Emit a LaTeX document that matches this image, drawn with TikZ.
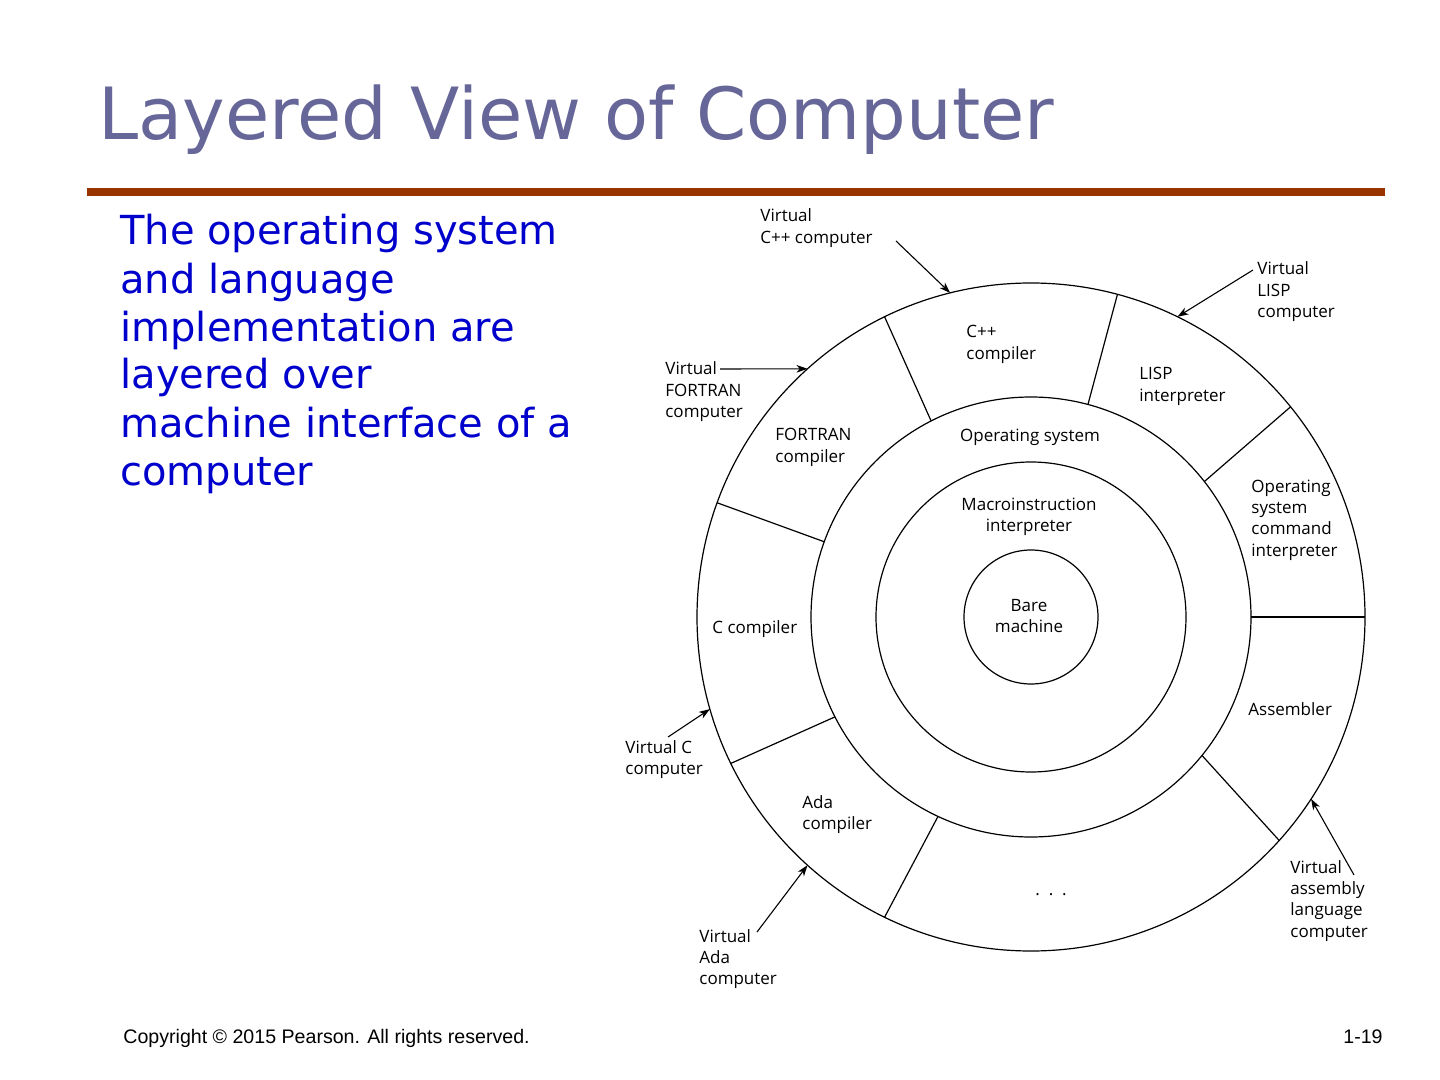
\documentclass[tikz,border=0pt]{standalone}
\usepackage{fontspec}
\newfontfamily\dvs{DejaVu Sans}
\newfontfamily\lblf{Open Sans}
\newfontfamily\footf{Liberation Sans}
\usetikzlibrary{arrows.meta,calc}
\definecolor{titlecol}{HTML}{666699}
\definecolor{barcol}{HTML}{993300}
\definecolor{bodycol}{HTML}{0000CC}
\begin{document}
\begin{tikzpicture}[x=0.5pt,y=-0.5pt,
 ring/.style={circle,draw,line width=0.6pt,inner sep=0,outer sep=0},
 lbl/.style={anchor=base west,align=left,inner sep=0,font=\lblf\fontsize{8.5}{10.7}\selectfont},
 lblc/.style={lbl,anchor=base,align=center},
 divider/.style={line width=0.6pt},
 ptr/.style={-{Stealth[length=5.5pt,width=3.8pt,inset=1.6pt]},line width=0.55pt}]
\useasboundingbox (0,0) rectangle (1440,1080);
\fill[white] (0,0) rectangle (1440,1080);
% title and bar
\node[anchor=base west,inner sep=0,font=\dvs\fontsize{36}{43}\selectfont,text=titlecol] (title) at (98,140) {Layered View of Computer};
\fill[barcol] (87,188) rectangle (1385,196);
% body text (anchor = baseline of last line)
\node[anchor=base west,align=left,inner sep=0,font=\dvs\fontsize{20}{24}\selectfont,text=bodycol] (body) at (120,485)
 {The operating system\\and language\\implementation are\\layered over\\machine interface of a\\computer};
% footer
\node[anchor=base west,inner sep=0,font=\footf\fontsize{9.8}{12}\selectfont] (copy) at (123,1043) {Copyright \textcopyright{} 2015 Pearson. All rights reserved.};
\node[anchor=base east,inner sep=0,font=\footf\fontsize{9.8}{12}\selectfont] (pg) at (1383,1043) {1-19};
% rings
\coordinate (c) at (1031,617);
\node[ring,minimum size=334pt] (outer) at (c) {};
\node[ring,minimum size=220pt] (os) at (c) {};
\node[ring,minimum size=155pt] (macro) at (c) {};
\node[ring,minimum size=67pt] (bare) at (c) {};
% dividers
\draw[divider] (os.117.1) -- (outer.116.3);
\draw[divider] (os.75.1) -- (outer.75.3);
\draw[divider] (os.38.4) -- (outer.39.3);
\draw[divider] (os.0) -- (outer.0);
\draw[divider] (os.-39.3) -- (outer.-42.2);
\draw[divider] (os.245.1) -- (outer.244.9);
\draw[divider] (os.207.3) -- (outer.206.7);
\draw[divider] (os.160) -- (outer.160);
% inner labels (anchor = baseline of last line)
\node[lbl] (cpp) at (966,359.4) {C++\\compiler};
\node[lbl] (lisp) at (1139,401.4) {LISP\\interpreter};
\node[lbl] (fortran) at (775,462.4) {FORTRAN\\compiler};
\node[lblc] (oslbl) at (1030,442) {Operating system};
\node[lblc] (macrolbl) at (1029,531.4) {Macroinstruction\\interpreter};
\node[lblc] (barelbl) at (1029,632.4) {Bare\\machine};
\node[lbl] (oscmd) at (1251,556.2) {Operating\\system\\command\\interpreter};
\node[lbl] (clbl) at (712,633) {C compiler};
\node[lbl] (asm) at (1248,715) {Assembler};
\node[lbl] (ada) at (802,829.4) {Ada\\compiler};
\node[lbl] (dots) at (1035,895) {.\ \ .\ \ .};
% outer labels
\node[lbl] (vcpp) at (760,243.4) {Virtual\\C++ computer};
\node[lbl] (vlisp) at (1257,317.8) {Virtual\\LISP\\computer};
\node[lbl] (vfortran) at (665,417.8) {Virtual\\FORTRAN\\computer};
\node[lbl] (vc) at (625,774.4) {Virtual C\\computer};
\node[lbl] (vada) at (699,984.8) {Virtual\\Ada\\computer};
\node[lbl] (vasm) at (1290,937.2) {Virtual\\assembly\\language\\computer};
% arrows
\coordinate (aCpp) at (896,241);
\coordinate (aLisp) at (1253,270);
\coordinate (aFor) at (720,369);
\coordinate (aC) at (668,737);
\coordinate (aAda) at (757,932);
\coordinate (aAsm) at (1354,875);
\draw[ptr] (aCpp) -- (outer.104.1);
\draw[ptr] (aLisp) -- (outer.64.2);
\draw[ptr] (aFor) -- (outer.132.1);
\draw[ptr] (aC) -- (outer.196.7);
\draw[ptr] (aAda) -- (outer.228.9);
\draw[ptr] (aAsm) -- (outer.327.9);
\end{tikzpicture}
\end{document}
